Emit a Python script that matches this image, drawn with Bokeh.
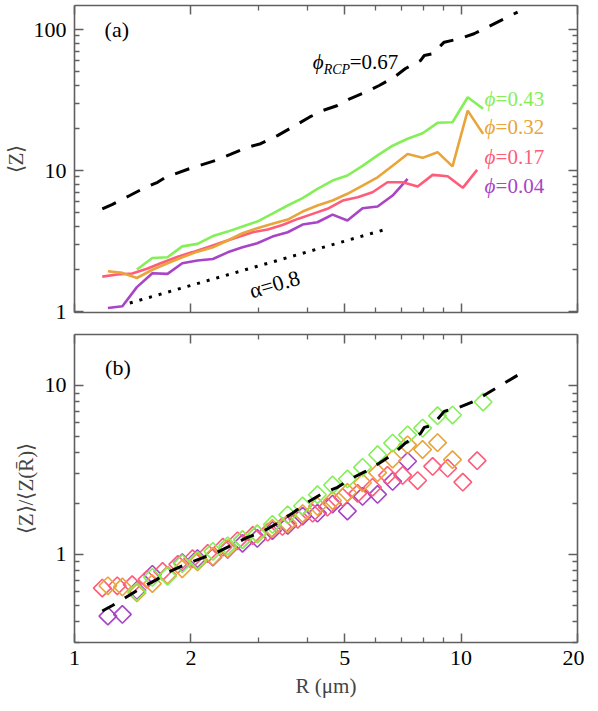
from bokeh.plotting import figure
from bokeh.layouts import column
from bokeh.models import LogAxis, FixedTicker, Label, Range1d, BasicTickFormatter, CustomJSTickFormatter
from bokeh.embed import file_html
from bokeh.resources import INLINE

# ---------------- data ----------------
# panel (a): <Z> versus R
R_rcp = [1.18, 1.25, 1.39, 1.50, 1.64, 1.72, 1.98, 2.32, 2.53, 2.80, 3.03, 3.35, 3.66, 4.05, 4.38,
         4.79, 5.17, 5.66, 6.14, 6.71, 7.18, 7.85, 8.03, 8.43, 9.04, 9.89, 10.8, 11.7, 12.9, 14.0]
Z_rcp = [5.35, 5.74, 6.65, 7.42, 8.26, 8.96, 10.3, 11.8, 13.0, 14.6, 15.5, 17.7, 20.3, 23.9, 26.6,
         28.9, 32.4, 35.9, 40.1, 45.9, 52.9, 60.2, 65.4, 67.3, 81.3, 85.9, 93.3, 104, 119, 133]

R_043 = [1.45, 1.59, 1.74, 1.90, 2.08, 2.28, 2.49, 2.72, 2.97, 3.25, 3.56, 3.89, 4.25, 4.65, 5.08,
         5.56, 6.08, 6.65, 7.27, 7.95, 8.69, 9.50, 10.4, 11.4]
Z_043 = [1.99, 2.40, 2.43, 2.90, 3.02, 3.43, 3.69, 4.01, 4.35, 4.95, 5.65, 6.38, 7.42, 8.49, 9.22,
         10.8, 12.8, 15.0, 16.8, 18.4, 21.8, 22.0, 33.1, 27.4]

R_032 = [1.22, 1.33, 1.45, 1.59, 1.74, 1.90, 2.08, 2.28, 2.49, 2.72, 2.97, 3.25, 3.56, 3.89, 4.25,
         4.65, 5.08, 5.56, 6.08, 6.65, 7.27, 7.95, 8.69, 9.50, 10.4, 11.4]
Z_032 = [1.93, 1.88, 1.73, 1.98, 2.20, 2.43, 2.66, 2.86, 3.19, 3.59, 3.90, 4.19, 4.49, 5.12, 5.65,
         6.13, 6.84, 7.83, 8.96, 10.8, 13.1, 12.3, 13.5, 10.7, 26.6, 18.2]

R_017 = [1.18, 1.29, 1.41, 1.54, 1.69, 1.85, 2.02, 2.21, 2.42, 2.64, 2.89, 3.16, 3.45, 3.78, 4.13,
         4.51, 4.94, 5.40, 5.90, 6.45, 7.06, 7.72, 8.44, 9.23, 10.1, 11.0]
Z_017 = [1.77, 1.83, 1.86, 2.01, 2.23, 2.45, 2.64, 2.86, 3.11, 3.37, 3.65, 3.82, 4.11, 4.54, 4.93,
         5.35, 6.13, 6.47, 7.02, 8.26, 8.26, 7.70, 9.32, 9.11, 7.54, 10.1]

R_004 = [1.22, 1.33, 1.45, 1.59, 1.74, 1.90, 2.08, 2.28, 2.49, 2.72, 2.97, 3.25, 3.56, 3.89, 4.25,
         4.65, 5.08, 5.56, 6.08, 6.65, 7.27]
Z_004 = [1.06, 1.09, 1.49, 1.87, 1.85, 2.20, 2.30, 2.36, 2.63, 2.86, 3.05, 3.40, 3.65, 4.14, 4.30,
         4.87, 4.42, 5.40, 5.56, 6.65, 8.73]

R_alpha = [1.39, 6.32]
Z_alpha = [1.15, 3.80]

# panel (b): <Z>/<Z(Rbar)> versus R
Zn_rcp = [0.461, 0.495, 0.573, 0.640, 0.712, 0.772, 0.888, 1.017, 1.121, 1.259, 1.336, 1.526, 1.75,
          2.06, 2.29, 2.49, 2.79, 3.09, 3.46, 3.96, 4.56, 5.19, 5.64, 5.80, 7.01, 7.41, 8.04, 8.97,
          10.26, 11.47]

Rn_043 = [1.45, 1.59, 1.74, 1.90, 2.08, 2.28, 2.49, 2.72, 2.97, 3.25, 3.56, 3.89, 4.25, 4.65, 5.08,
          5.56, 6.08, 6.65, 7.27, 7.95, 8.69, 9.50, 11.4]
Zn_043 = [0.60, 0.73, 0.74, 0.88, 0.92, 1.04, 1.12, 1.22, 1.32, 1.50, 1.71, 1.93, 2.25, 2.57, 2.79,
          3.27, 3.88, 4.55, 5.09, 5.58, 6.61, 6.67, 7.97]

Rn_032 = [1.22, 1.33, 1.45, 1.59, 1.74, 1.90, 2.08, 2.28, 2.49, 2.72, 2.97, 3.25, 3.56, 3.89, 4.25,
          4.65, 5.08, 5.56, 6.08, 6.65, 7.27, 7.95, 8.69, 9.50]
Zn_032 = [0.65, 0.64, 0.59, 0.67, 0.75, 0.82, 0.90, 0.97, 1.08, 1.22, 1.32, 1.42, 1.52, 1.74, 1.92,
          2.08, 2.32, 2.65, 3.04, 3.66, 4.44, 4.17, 4.58, 3.63]

Rn_017 = R_017
Zn_017 = [0.63, 0.65, 0.66, 0.71, 0.79, 0.87, 0.94, 1.01, 1.10, 1.20, 1.29, 1.35, 1.46, 1.61, 1.75,
          1.90, 2.17, 2.29, 2.49, 2.93, 2.93, 2.73, 3.31, 3.23, 2.67, 3.58]

Rn_004 = R_004
Zn_004 = [0.43, 0.44, 0.61, 0.76, 0.75, 0.89, 0.94, 0.96, 1.07, 1.16, 1.24, 1.38, 1.48, 1.68, 1.75,
          1.98, 1.80, 2.20, 2.26, 2.70, 3.55]

phi_labels = ["ϕ", "=0.43", "=0.32", "=0.17", "=0.04"]
rcp_label = ["ϕ", "RCP", "=0.67"]
alpha_label = "α=0.8"

x_ticks = [1, 2, 5, 10, 20]
x_tick_labels = ["1", "2", "5", "10", "20"]
x_minor = [3, 4, 6, 7, 8, 9]
ya_ticks = [1, 10, 100]
ya_tick_labels = ["1", "10", "100"]
ya_minor = [2, 3, 4, 5, 6, 7, 8, 9, 20, 30, 40, 50, 60, 70, 80, 90]
yb_ticks = [1, 10]
yb_tick_labels = ["1", "10"]
yb_minor = [0.3, 0.4, 0.5, 0.6, 0.7, 0.8, 0.9, 2, 3, 4, 5, 6, 7, 8, 9]

C_GREEN = "#85EF58"
C_ORANGE = "#E9A43A"
C_RED = "#FF5C7A"
C_PURPLE = "#A845C6"
FRAME = "#606060"
FONT = "Liberation Serif"


def style_axis(ax, ticks, minor, labels=None):
    ax.ticker = FixedTicker(ticks=ticks, minor_ticks=minor)
    ax.axis_line_color = FRAME
    ax.axis_line_width = 1.6
    ax.major_tick_line_color = FRAME
    ax.minor_tick_line_color = FRAME
    ax.major_tick_line_width = 1.5
    ax.minor_tick_line_width = 1.3
    ax.major_tick_in = 9
    ax.major_tick_out = 0
    ax.minor_tick_in = 5
    ax.minor_tick_out = 0
    if labels is not None:
        ax.formatter = BasicTickFormatter()
        ax.major_label_overrides = {t: s for t, s in zip(ticks, labels)}
        ax.major_label_text_font = FONT
        ax.major_label_text_font_size = "22px"
        ax.major_label_text_color = "black"
        ax.major_label_standoff = 8
    else:
        ax.formatter = CustomJSTickFormatter(code="return '';")
        ax.major_label_text_font_size = "2px"
        ax.major_label_standoff = 0


def make_fig(yr, fh, top, bottom):
    p = figure(frame_width=503, frame_height=fh, x_axis_type="log", y_axis_type="log",
               x_range=Range1d(1, 20), y_range=yr, output_backend="svg",
               toolbar_location=None, min_border_left=69, min_border_right=12,
               min_border_top=top, min_border_bottom=bottom, background_fill_color="white",
               border_fill_color="white")
    p.grid.visible = False
    p.outline_line_color = None
    return p


# ---------------- panel (a) ----------------
p1 = make_fig(Range1d(0.985, 148), 307, 5, 13)
style_axis(p1.xaxis[0], x_ticks, x_minor, None)
style_axis(p1.yaxis[0], ya_ticks, ya_minor, ya_tick_labels)
p1.yaxis[0].axis_label = "⟨Z⟩"
p1.yaxis[0].axis_label_text_font = FONT
p1.yaxis[0].axis_label_text_font_size = "21px"
p1.yaxis[0].axis_label_text_font_style = "normal"
p1.yaxis[0].axis_label_standoff = 3
ax_r = LogAxis()
style_axis(ax_r, ya_ticks, ya_minor, None)
p1.add_layout(ax_r, "right")
ax_t = LogAxis()
style_axis(ax_t, x_ticks, x_minor, None)
p1.add_layout(ax_t, "above")

p1.line(R_alpha, Z_alpha, line_color="black", line_width=3, line_dash="3 7")
p1.line(R_004, Z_004, line_color=C_PURPLE, line_width=2.6)
p1.line(R_017, Z_017, line_color=C_RED, line_width=2.6)
p1.line(R_032, Z_032, line_color=C_ORANGE, line_width=2.6)
p1.line(R_043, Z_043, line_color=C_GREEN, line_width=2.6)
p1.line(R_rcp, Z_rcp, line_color="black", line_width=3, line_dash="15 12")

p1.add_layout(Label(x=1.196, y=100, text="(a)", text_font=FONT, text_font_size="22px",
                    text_baseline="middle", text_align="left", text_color="black"))

for lab, yv, col in zip(phi_labels[1:], [32.4, 20.2, 12.4, 7.83], [C_GREEN, C_ORANGE, C_RED, C_PURPLE]):
    p1.add_layout(Label(x=11.5, y=yv, text=phi_labels[0], text_font=FONT, text_font_size="21px",
                        text_font_style="italic", text_baseline="middle", text_color=col))
    p1.add_layout(Label(x=11.5, y=yv, x_offset=11, text=lab, text_font=FONT, text_font_size="21px",
                        text_baseline="middle", text_color=col))

p1.add_layout(Label(x=4.13, y=59.3, text=rcp_label[0], text_font=FONT, text_font_size="21px",
                    text_font_style="italic", text_baseline="middle", text_color="black"))
p1.add_layout(Label(x=4.13, y=59.3, x_offset=11, y_offset=-8, text=rcp_label[1], text_font=FONT,
                    text_font_size="14px", text_font_style="italic", text_baseline="middle",
                    text_color="black"))
p1.add_layout(Label(x=4.13, y=59.3, x_offset=37, text=rcp_label[2], text_font=FONT,
                    text_font_size="21px", text_baseline="middle", text_color="black"))
p1.add_layout(Label(x=2.84, y=1.39, text=alpha_label, angle=0.286, text_font=FONT,
                    text_font_size="22px", text_baseline="alphabetic", text_align="left",
                    text_color="black"))

# ---------------- panel (b) ----------------
p2 = make_fig(Range1d(0.3, 20), 308, 9, 0)
style_axis(p2.xaxis[0], x_ticks, x_minor, x_tick_labels)
p2.xaxis[0].axis_label = "R (μm)"
p2.xaxis[0].axis_label_text_font = FONT
p2.xaxis[0].axis_label_text_font_size = "21px"
p2.xaxis[0].axis_label_text_font_style = "normal"
p2.xaxis[0].axis_label_standoff = 6
style_axis(p2.yaxis[0], yb_ticks, yb_minor, yb_tick_labels)
p2.yaxis[0].axis_label = "⟨Z⟩/⟨Z(R̄)⟩"
p2.yaxis[0].axis_label_text_font = FONT
p2.yaxis[0].axis_label_text_font_size = "21px"
p2.yaxis[0].axis_label_text_font_style = "normal"
p2.yaxis[0].axis_label_standoff = 4
ax_r2 = LogAxis()
style_axis(ax_r2, yb_ticks, yb_minor, None)
p2.add_layout(ax_r2, "right")
ax_t2 = LogAxis()
style_axis(ax_t2, x_ticks, x_minor, None)
p2.add_layout(ax_t2, "above")

for xs, ys, col in [(Rn_004, Zn_004, C_PURPLE), (Rn_017, Zn_017, C_RED),
                    (Rn_032, Zn_032, C_ORANGE), (Rn_043, Zn_043, C_GREEN)]:
    p2.scatter(xs, ys, marker="square", angle=0.785398, size=12.5, fill_color=None,
               line_color=col, line_width=1.6)
p2.line(R_rcp, Zn_rcp, line_color="black", line_width=3, line_dash="14 12")

p2.add_layout(Label(x=1.2, y=12.8, text="(b)", text_font=FONT, text_font_size="22px",
                    text_baseline="middle", text_align="left", text_color="black"))

layout = column(p1, p2)
open("out.html", "w").write(file_html(layout, INLINE))
